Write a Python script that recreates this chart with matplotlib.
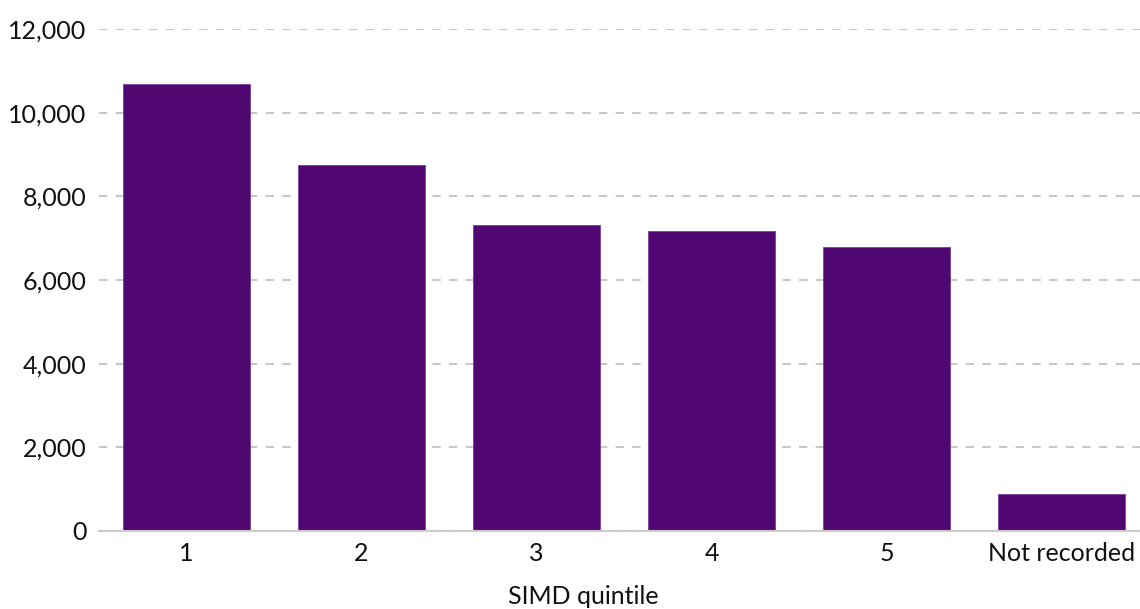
import matplotlib
matplotlib.use("Agg")
import matplotlib.pyplot as plt

categories = ["1", "2", "3", "4", "5", "Not recorded"]
values = [10690, 8750, 7310, 7170, 6790, 880]
yticks = [0, 2000, 4000, 6000, 8000, 10000, 12000]
ytick_labels = ["0", "2,000", "4,000", "6,000", "8,000", "10,000", "12,000"]
xlabel = "SIMD quintile"

plt.rcParams['font.family'] = ['Lato', 'DejaVu Sans']

W, H = 1140, 609
fig = plt.figure(figsize=(W / 100, H / 100), dpi=100)
left, right = 99 / W, 1.0
bottom, top = (H - 531) / H, (H - 29) / H
ax = fig.add_axes([left, bottom, right - left, top - bottom])

x = list(range(len(categories)))
ax.bar(x, values, width=0.725, color="#500772", edgecolor="#7a3f96", linewidth=0.6, zorder=3)

ax.set_xlim(-0.5, -0.5 + (W - 99) / 175)
ax.set_ylim(0, 12000)
ax.set_yticks(yticks)
ax.set_yticklabels(ytick_labels)
ax.set_xticks(x)
ax.set_xticklabels(categories)

ax.yaxis.grid(True, color="#c8c8c8", linestyle=(0, (4, 4)), linewidth=1.5, zorder=0)
ax.set_axisbelow(True)
for s in ["top", "right", "left"]:
    ax.spines[s].set_visible(False)
ax.spines["bottom"].set_color("#cccccc")
ax.spines["bottom"].set_linewidth(1.5)
ax.spines["bottom"].set_zorder(4)

ax.tick_params(axis="both", length=0, labelsize=18, colors="#111111")
ax.tick_params(axis="y", pad=9)
ax.tick_params(axis="x", pad=8)

fig.text(583 / W, (H - 597) / H, xlabel, fontsize=18, color="#111111",
         ha="center", va="center")

fig.savefig("out.png", dpi=100)
